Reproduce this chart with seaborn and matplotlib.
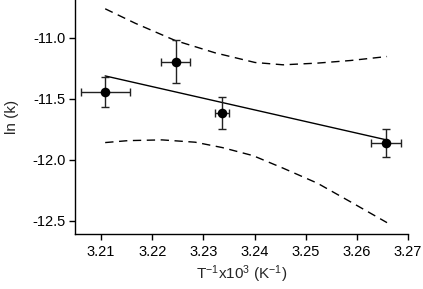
import matplotlib
matplotlib.use('Agg')
import numpy as np
import pandas as pd
import seaborn as sns
from matplotlib import pyplot as plt

# measured points
inv_t = [3.2108, 3.2246, 3.2337, 3.2657]
ln_k = [-11.445, -11.194, -11.612, -11.863]
inv_t_err = [0.0048, 0.0028, 0.0014, 0.0029]
ln_k_err = [0.125, 0.173, 0.131, 0.115]

# fitted line (end points)
fit_x = [3.2108, 3.2657]
fit_y = [-11.312, -11.835]

# dashed band
upper_x = [3.2108, 3.2167, 3.2245, 3.2323, 3.2401, 3.2456, 3.2523, 3.2587, 3.2659]
upper_y = [-10.762, -10.881, -11.022, -11.123, -11.202, -11.221, -11.207, -11.186, -11.153]
lower_x = [3.2108, 3.2153, 3.2219, 3.2284, 3.2337, 3.2397, 3.2456, 3.2523, 3.2587, 3.2659]
lower_y = [-11.858, -11.842, -11.836, -11.855, -11.899, -11.965, -12.068, -12.191, -12.342, -12.514]

sns.set_style('ticks')
plt.rcParams['font.family'] = ['Liberation Sans', 'DejaVu Sans']
plt.rcParams['mathtext.fontset'] = 'custom'
plt.rcParams['mathtext.rm'] = 'Liberation Sans'
plt.rcParams['mathtext.it'] = 'Liberation Sans'

fig = plt.figure(figsize=(4.23, 2.89), dpi=100)
ax = fig.add_axes([75 / 423, 1 - 234 / 289, 333 / 423, 234 / 289])

df = pd.DataFrame({'x': inv_t, 'y': ln_k})

sns.lineplot(x=fit_x, y=fit_y, ax=ax, color='black', lw=1.0, estimator=None, sort=False)
for bx, by in [(upper_x, upper_y), (lower_x, lower_y)]:
    sns.lineplot(x=bx, y=by, ax=ax, color='black', lw=1.0, estimator=None, sort=False,
                 dashes=False, linestyle=(0, (6, 4)))

ax.errorbar(inv_t, ln_k, xerr=inv_t_err, yerr=ln_k_err, fmt='none',
            ecolor='#222222', elinewidth=1.0, capsize=3, capthick=1.0, zorder=3)
sns.scatterplot(data=df, x='x', y='y', ax=ax, color='black', s=48, edgecolor='black',
                linewidth=0, zorder=4)

ax.set_xlim(3.2049, 3.27)
ax.set_ylim(-12.607, -10.69)
ax.set_xticks([3.21, 3.22, 3.23, 3.24, 3.25, 3.26, 3.27])
ax.set_xticklabels(['3.21', '3.22', '3.23', '3.24', '3.25', '3.26', '3.27'])
ax.set_yticks([-11.0, -11.5, -12.0, -12.5])
ax.set_yticklabels(['-11.0', '-11.5', '-12.0', '-12.5'])
ax.tick_params(axis='both', direction='out', length=4, width=1.0, labelsize=10.5,
               color='black', labelcolor='black')
ax.tick_params(axis='x', pad=4)
ax.tick_params(axis='y', pad=3)
for side in ['left', 'bottom']:
    ax.spines[side].set_linewidth(1.0)
    ax.spines[side].set_color('black')
sns.despine(ax=ax)

ax.set_xlabel(r'T$^{\mathregular{-1}}$x10$^{\mathregular{3}}$ (K$^{\mathregular{-1}}$)',
              fontsize=11, labelpad=3)
ax.set_ylabel('ln (k)', fontsize=11, labelpad=9)

fig.savefig('out.png', dpi=100)
